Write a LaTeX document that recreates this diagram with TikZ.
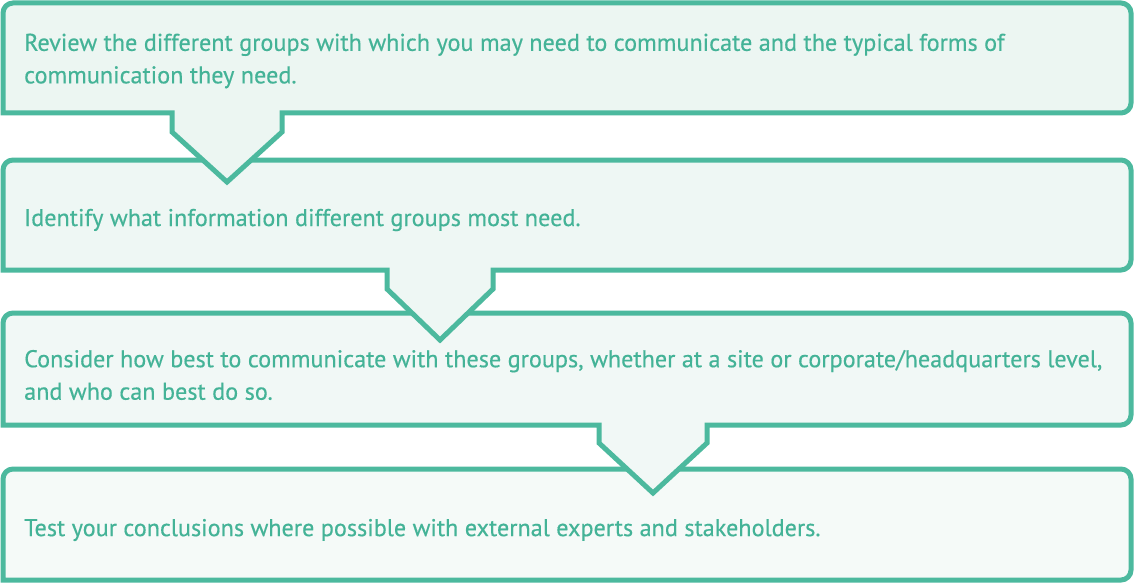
\documentclass[tikz,border=0pt]{standalone}
\usepackage{fontspec}
\setmainfont{PT Sans}
\newfontfamily\stepfont{PT Sans}[FakeBold=0.4]
\usepackage{tikz}
\usetikzlibrary{positioning}

\definecolor{stepline}{HTML}{4CB99E}
\definecolor{steptext}{HTML}{44B397}
\definecolor{fillA}{HTML}{ECF6F2}
\definecolor{fillB}{HTML}{EEF7F4}
\definecolor{fillC}{HTML}{F1F8F6}
\definecolor{fillD}{HTML}{F5FAF8}

\begin{document}
\begin{tikzpicture}[x=1pt, y=-1pt,
    stepbox/.style = {draw=stepline, line width=5pt, line join=miter},
    stepnote/.style = {anchor=west, align=left, inner sep=0pt, text=steptext,
        font=\stepfont\fontsize{24.2}{32.5}\selectfont}]
\useasboundingbox (0,0) rectangle (1134,583);
% boxes from the bottom up, so each pointer lies over the next box
\draw[stepbox, fill=fillD] (3,580) [rounded corners=10] -- (3,469) -- (1131,469) -- (1131,580) [sharp corners] -- cycle;
\draw[stepbox, fill=fillC] (3,425) [rounded corners=10] -- (3,313) -- (1131,313) -- (1131,425) [sharp corners]
    -- (707,425) -- (707,443) -- (653,493) -- (599,443) -- (599,425) -- cycle;
\draw[stepbox, fill=fillB] (3,270) [rounded corners=10] -- (3,160) -- (1131,160) -- (1131,270) [sharp corners]
    -- (493,270) -- (493,289) -- (440,340) -- (387,289) -- (387,270) -- cycle;
\draw[stepbox, fill=fillA] (3,113) [rounded corners=10] -- (3,3) -- (1131,3) -- (1131,113) [sharp corners]
    -- (282,113) -- (282,132) -- (227,182) -- (172,132) -- (172,113) -- cycle;

\node[stepnote] (review) at (24,61) {Review the different groups with which you may need to communicate and the typical forms of\\communication they need.};
\node[stepnote] (identify) at (24,220) {Identify what information different groups most need.};
\node[stepnote] (consider) at (24,375) {Consider how best to communicate with these groups, whether at a site or corporate/headquarters level,\\and who can best do so.};
\node[stepnote] (test) at (24,530) {Test your conclusions where possible with external experts and stakeholders.};
\end{tikzpicture}
\end{document}
